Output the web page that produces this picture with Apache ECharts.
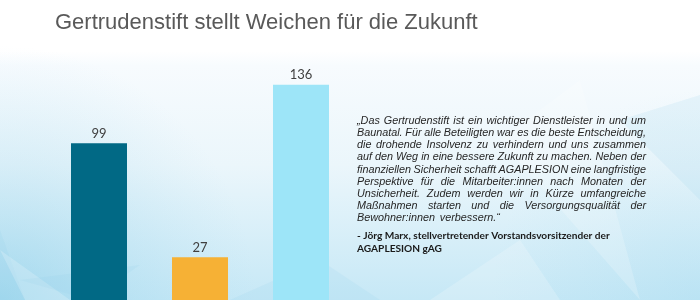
<!DOCTYPE html>
<html><head><meta charset="utf-8">
<script src="https://cdn.jsdelivr.net/npm/echarts@6/dist/echarts.min.js"></script>
<style>html,body{margin:0;padding:0;background:#fff}#c{width:700px;height:300px}</style>
</head><body><div id="c"></div>
<script>
const titleText = 'Gertrudenstift stellt Weichen für die Zukunft';
const categories = ['Kategorie 1', 'Kategorie 2', 'Kategorie 3'];
const values = [99, 27, 136];
const barColors = ['#016985', '#F6B135', '#9DE5F8'];
const quoteLines = [
  '„Das Gertrudenstift ist ein wichtiger Dienstleister in und um',
  'Baunatal. Für alle Beteiligten war es die beste Entscheidung,',
  'die drohende Insolvenz zu verhindern und uns zusammen',
  'auf den Weg in eine bessere Zukunft zu machen. Neben der',
  'finanziellen Sicherheit schafft AGAPLESION eine langfristige',
  'Perspektive für die Mitarbeiter:innen nach Monaten der',
  'Unsicherheit. Zudem werden wir in Kürze umfangreiche',
  'Maßnahmen starten und die Versorgungsqualität der',
  'Bewohner:innen verbessern.“'
];
const authorLines = [
  '- Jörg Marx, stellvertretender Vorstandsvorsitzender der',
  'AGAPLESION gAG'
];

const chart = echarts.init(document.getElementById('c'), null, {renderer: 'canvas'});
const ctx = document.createElement('canvas').getContext('2d');
function measure(font, t) { ctx.font = font; return ctx.measureText(t).width; }

const graphics = [];
// background
graphics.push({type: 'rect', z: -100, shape: {x: 0, y: 0, width: 700, height: 300},
  style: {fill: new echarts.graphic.LinearGradient(0, 0, 0, 1, [
    {offset: 0, color: '#ffffff'}, {offset: 0.17, color: '#ffffff'},
    {offset: 0.22, color: '#f7fbfe'}, {offset: 0.55, color: '#ebf6fb'},
    {offset: 1, color: '#c6e8f6'}])}});
graphics.push({type: 'rect', z: -99, shape: {x: 0, y: 0, width: 700, height: 300},
  style: {fill: new echarts.graphic.RadialGradient(0, 1, 0.85, [
    {offset: 0, color: 'rgba(120,198,228,0.45)'}, {offset: 1, color: 'rgba(160,215,238,0)'}])}});
graphics.push({type: 'rect', z: -99, shape: {x: 0, y: 0, width: 700, height: 300},
  style: {fill: new echarts.graphic.RadialGradient(1, 1, 0.7, [
    {offset: 0, color: 'rgba(150,212,236,0.25)'}, {offset: 1, color: 'rgba(160,215,238,0)'}])}});
const facets = [
  [[0, 230], [25, 300], [0, 300]],
  [[0, 250], [70, 300], [25, 300]],
  [[20, 280], [140, 265], [90, 300]],
  [[500, 140], [580, 80], [640, 300]],
  [[620, 120], [700, 95], [700, 200]],
  [[430, 300], [520, 240], [560, 300]],
  [[230, 300], [320, 260], [380, 300]]
];
facets.forEach((p, i) => graphics.push({type: 'polygon', z: -98, shape: {points: p},
  style: {fill: i % 2 ? 'rgba(255,255,255,0.2)' : 'rgba(140,205,232,0.14)'}}));

// title
graphics.push({type: 'text', z: 10, x: 55, y: 12, style: {text: titleText,
  font: '22px "Liberation Sans", Arial, sans-serif', fill: '#595959', textVerticalAlign: 'top'}});

// justified quote
const qFont = 'italic 10.8px "Liberation Sans", Arial, sans-serif';
const qLeft = 357, qRight = 646, qTop = 120.7, qLH = 12.2;
quoteLines.forEach((line, i) => {
  const y = qTop + i * qLH;
  const words = line.split(' ');
  const last = i === quoteLines.length - 1;
  const widths = words.map(w => measure(qFont, w));
  const sum = widths.reduce((a, b) => a + b, 0);
  let gap = last ? measure(qFont, ' ') * 1.6 : Math.max(2.5, (qRight - qLeft - sum) / (words.length - 1));
  let x = qLeft;
  words.forEach((w, k) => {
    graphics.push({type: 'text', z: 10, x: x, y: y, style: {text: w, font: qFont, fill: '#262626',
      textVerticalAlign: 'middle', verticalAlign: 'middle'}});
    x += widths[k] + gap;
  });
});
// author (bold)
const aBase = 'bold 10px Lato, "Liberation Sans", sans-serif';
const aSize = 10 * 253 / measure(aBase, authorLines[0]);
const aFont = 'bold ' + aSize.toFixed(2) + 'px Lato, "Liberation Sans", sans-serif';
authorLines.forEach((t, i) => graphics.push({type: 'text', z: 10, x: 357, y: 236 + i * 13,
  style: {text: t, font: aFont, fill: '#1a1a1a', textVerticalAlign: 'middle', verticalAlign: 'middle'}}));

chart.setOption({
  animation: false,
  grid: {left: 48.5, width: 303, top: 62.5, bottom: 0, containLabel: false},
  xAxis: {type: 'category', data: categories, show: false},
  yAxis: {type: 'value', min: 0, max: 150, show: false, splitLine: {show: false}},
  graphic: graphics,
  series: [{
    type: 'bar', barWidth: 56,
    data: values.map((v, i) => ({value: v, itemStyle: {color: barColors[i]}})),
    label: {show: true, position: 'top', distance: 3, fontSize: 13,
      fontFamily: 'Lato, "Liberation Sans", sans-serif', color: '#404040'}
  }]
});
</script></body></html>
